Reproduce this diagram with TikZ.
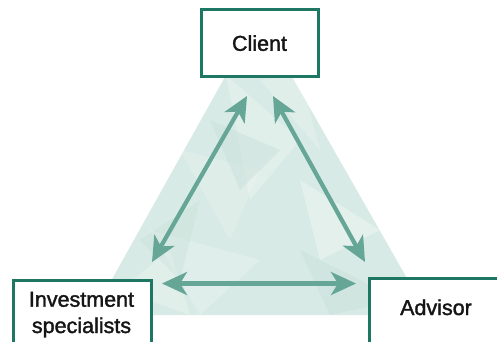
\documentclass[tikz,border=0pt]{standalone}
\usepackage{fontspec}
\setmainfont{Liberation Sans}
\newfontfamily\lblfont[FakeBold=1.6]{Liberation Sans}
\usetikzlibrary{arrows.meta}
\definecolor{boxgreen}{HTML}{1E7762}
\definecolor{mint}{HTML}{D8EAE5}
\definecolor{mintdark}{HTML}{C9E1DA}
\definecolor{arrowgreen}{HTML}{65A696}
\definecolor{txt}{HTML}{151515}
\tikzset{
  box/.style={draw=boxgreen, line width=3pt, fill=white, inner sep=0pt},
  lbl/.style={text=txt, font=\lblfont\fontsize{21.5}{26}\selectfont, inner sep=0pt, anchor=base},
  link/.style={draw=arrowgreen, line width=4.2pt,
     {Stealth[length=25pt,width=23pt,inset=7pt]}-{Stealth[length=25pt,width=23pt,inset=7pt]}},
  facet/.style={fill=white, draw=none}
}
\begin{document}
\begin{tikzpicture}[x=1pt,y=-1pt]
\useasboundingbox (0,0) rectangle (497,341);
% shaded triangle
\begin{scope}
\clip (226,75) -- (291,75) -- (428,315) -- (92,315) -- cycle;
\fill[mint] (80,70) rectangle (440,320);
\fill[facet, opacity=0.25] (226,75) -- (300,140) -- (250,200) -- cycle;
\fill[facet, opacity=0.2] (150,230) -- (260,260) -- (200,315) -- cycle;
\fill[facet, opacity=0.3] (300,180) -- (380,230) -- (320,260) -- cycle;
\fill[facet, opacity=0.18] (180,150) -- (260,170) -- (230,240) -- cycle;
\fill[facet, opacity=0.22] (260,80) -- (300,75) -- (320,150) -- cycle;
\fill[mintdark, opacity=0.5] (210,120) -- (280,150) -- (240,190) -- cycle;
\fill[mintdark, opacity=0.5] (300,250) -- (400,300) -- (330,315) -- cycle;
\fill[facet, opacity=0.25] (120,290) -- (170,250) -- (190,315) -- cycle;
\fill[facet, opacity=0.2] (330,90) -- (400,250) -- (350,170) -- cycle;
\fill[mintdark, opacity=0.4] (140,240) -- (200,200) -- (180,280) -- cycle;
\end{scope}
% boxes
\node[box, minimum width=117pt, minimum height=67pt] (client) at (259.5,42.5) {};
\node[box, minimum width=138pt, minimum height=100pt, anchor=north west] (inv) at (12,279) {};
\node[box, minimum width=150pt, minimum height=100pt, anchor=north west] (adv) at (368,277) {};
% labels
\node[lbl] (clientlbl) at (259.5,50.8) {Client};
\node[lbl] (invlbl1) at (81.5,306.7) {Investment};
\node[lbl] (invlbl2) at (81.5,333) {specialists};
\node[lbl] (advlbl) at (436,315) {Advisor};
% arrow end points
\coordinate (cl) at (247,96);
\coordinate (cr) at (273,96);
\coordinate (il) at (152,262);
\coordinate (ih) at (162,283.5);
\coordinate (ar) at (365,262);
\coordinate (ah) at (356,283.5);
\draw[link] (cl) -- (il);
\draw[link] (cr) -- (ar);
\draw[link] (ih) -- (ah);
\end{tikzpicture}
\end{document}
